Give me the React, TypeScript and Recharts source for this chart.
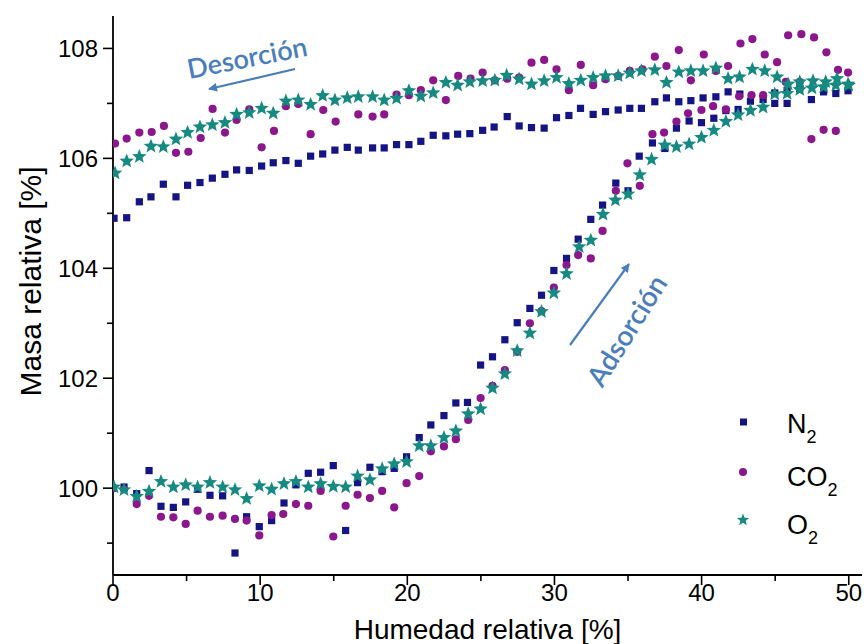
import { Legend, Scatter, ScatterChart, XAxis, YAxis } from 'recharts'

const N2_COLOR = '#141485'
const CO2_COLOR = '#8c168c'
const O2_COLOR = '#168a80'
const NOTE_COLOR = '#4a7ebb'
const FONT = '"Liberation Sans", Arimo, Arial, sans-serif'

const X_TICKS = [0, 5, 10, 15, 20, 25, 30, 35, 40, 45, 50]
const Y_TICKS = [99, 100, 101, 102, 103, 104, 105, 106, 107, 108]

// [humedad relativa %, masa relativa %]
const N2_ADS = [
  [0, 100.0], [0.75, 100.02], [1.61, 99.9], [2.45, 100.32], [3.26, 99.67], [4.1, 99.65],
  [4.94, 99.75], [5.75, 99.98], [6.59, 99.87], [7.45, 99.86], [8.29, 98.82], [9.08, 99.48],
  [9.94, 99.3], [10.78, 99.41], [11.62, 99.73], [12.43, 100.06], [13.27, 100.27], [14.11, 100.29],
  [14.97, 100.41], [15.81, 99.23], [16.62, 100.1], [17.46, 100.38], [18.29, 100.3], [19.11, 100.36],
  [19.95, 100.57], [20.81, 100.92], [21.6, 101.15], [22.49, 101.32], [23.3, 101.55], [24.09, 101.56],
  [24.98, 102.24], [25.79, 102.39], [26.63, 102.7], [27.47, 103.01], [28.33, 103.27], [29.12, 103.51],
  [29.96, 103.96], [30.82, 104.18], [31.61, 104.53], [32.47, 104.89], [33.27, 105.15], [34.17, 105.55],
  [35.0, 105.41], [35.76, 106.04], [36.66, 106.28], [37.5, 106.18], [38.29, 106.55], [39.15, 106.68],
  [39.99, 106.65], [40.83, 106.73], [41.65, 106.87], [42.48, 106.89], [43.32, 107.04], [44.18, 107.07],
  [44.97, 107.0], [45.81, 107.0], [47.46, 107.07], [48.29, 107.21], [49.12, 107.18], [49.95, 107.23],
]

const N2_DES = [
  [0.07, 104.91], [0.93, 104.92], [1.79, 105.21], [2.58, 105.3], [3.42, 105.53], [4.28, 105.3],
  [5.07, 105.51], [5.91, 105.56], [6.75, 105.64], [7.61, 105.71], [8.4, 105.79], [9.26, 105.78],
  [10.1, 105.86], [10.89, 105.92], [11.75, 105.96], [12.59, 105.91], [13.43, 106.04], [14.25, 106.08],
  [15.08, 106.15], [15.92, 106.2], [16.67, 106.15], [17.64, 106.19], [18.43, 106.19], [19.27, 106.25],
  [20.11, 106.25], [20.92, 106.31], [21.76, 106.42], [22.62, 106.41], [23.42, 106.44], [24.25, 106.45],
  [25.12, 106.51], [25.9, 106.57], [26.79, 106.76], [27.6, 106.59], [28.44, 106.56], [29.3, 106.55],
  [30.14, 106.74], [30.98, 106.78], [31.77, 106.91], [32.63, 106.8], [33.47, 106.85], [34.33, 106.88],
  [35.12, 106.91], [35.91, 106.91], [36.82, 107.03], [37.61, 107.1], [38.45, 107.03], [39.27, 107.05],
  [40.1, 107.1], [40.97, 107.12], [41.8, 107.21], [42.6, 107.17], [44.97, 107.19], [45.81, 107.24],
  [46.67, 107.27],
]

const CO2_ADS = [
  [0, 100.0], [0.75, 99.98], [1.61, 99.71], [2.45, 99.86], [3.26, 99.48], [4.1, 99.47],
  [4.94, 99.35], [5.75, 99.59], [6.59, 99.48], [7.45, 99.5], [8.29, 99.44], [9.08, 99.41],
  [9.94, 99.14], [10.78, 99.51], [11.57, 99.53], [12.43, 99.71], [13.27, 99.68], [14.11, 99.95],
  [14.97, 99.12], [15.81, 99.68], [16.62, 99.88], [17.46, 99.82], [18.29, 99.95], [19.11, 99.65],
  [19.95, 100.09], [20.81, 100.22], [21.6, 100.67], [22.49, 100.76], [23.3, 100.89], [24.14, 101.24],
  [24.98, 101.64], [25.79, 101.86], [26.63, 102.15], [27.47, 102.48], [28.33, 103.0], [29.12, 103.22],
  [29.96, 103.65], [30.82, 104.06], [31.61, 104.24], [32.47, 104.18], [33.27, 104.68], [34.17, 105.41],
  [34.96, 105.91], [35.8, 105.5], [36.66, 106.44], [37.45, 106.47], [38.29, 106.67], [39.08, 106.82],
  [39.99, 106.88], [40.78, 106.95], [41.65, 106.89], [42.55, 107.13], [43.39, 107.15], [44.18, 107.15],
  [45.72, 107.39], [46.67, 107.39], [47.46, 106.35], [48.29, 106.52], [49.12, 106.5],
]

const CO2_DES = [
  [0.14, 106.27], [0.93, 106.36], [1.79, 106.47], [2.63, 106.48], [3.46, 106.59], [4.28, 106.1],
  [5.12, 106.12], [5.96, 106.37], [6.77, 106.9], [7.61, 106.47], [8.4, 106.7], [9.26, 106.89],
  [10.1, 106.2], [10.94, 106.5], [11.75, 106.95], [12.59, 106.99], [13.43, 106.44], [14.29, 106.88],
  [15.13, 106.67], [16.67, 106.8], [17.64, 106.76], [18.43, 106.8], [19.27, 107.16], [20.11, 107.15],
  [20.92, 107.24], [21.76, 107.42], [22.62, 107.06], [23.46, 107.5], [24.3, 107.45], [25.12, 107.56],
  [25.95, 107.42], [26.79, 107.45], [27.6, 107.47], [28.44, 107.74], [29.3, 107.79], [30.14, 107.62],
  [30.98, 107.24], [31.79, 107.7], [32.63, 107.33], [33.47, 107.44], [34.33, 107.5], [35.12, 107.59],
  [35.98, 107.62], [36.82, 107.85], [37.61, 107.68], [38.45, 107.97], [39.27, 107.42], [40.15, 107.89],
  [40.97, 107.59], [41.8, 107.68], [42.64, 108.09], [43.45, 108.17], [44.29, 107.89], [45.13, 107.75],
  [45.88, 108.24], [46.78, 108.26], [47.64, 108.2], [48.48, 107.93], [49.27, 107.61], [49.95, 107.56],
]

const O2_ADS = [
  [0.07, 100.02], [0.75, 99.97], [1.61, 99.85], [2.45, 99.94], [3.26, 100.12], [4.1, 100.02],
  [4.94, 100.06], [5.75, 100.02], [6.59, 100.1], [7.45, 100.02], [8.29, 99.97], [9.08, 99.81],
  [9.94, 100.04], [10.78, 99.98], [11.62, 100.08], [12.43, 100.12], [13.27, 100.02], [14.11, 100.08],
  [14.97, 100.03], [15.81, 100.02], [16.62, 100.22], [17.46, 100.15], [18.29, 100.35], [19.11, 100.44],
  [19.95, 100.48], [20.81, 100.77], [21.6, 100.77], [22.49, 100.92], [23.3, 101.04], [24.14, 101.35],
  [24.98, 101.44], [25.79, 101.82], [26.63, 102.08], [27.47, 102.5], [28.33, 102.82], [29.12, 103.21],
  [29.96, 103.55], [30.82, 103.9], [31.68, 104.39], [32.47, 104.51], [33.3, 104.98], [34.14, 105.24],
  [35.0, 105.35], [35.8, 105.7], [36.6, 105.98], [37.5, 106.24], [38.29, 106.21], [39.15, 106.26],
  [39.99, 106.38], [40.83, 106.51], [41.65, 106.67], [42.48, 106.79], [43.32, 106.87], [44.18, 106.93],
  [44.97, 107.17], [45.81, 107.18], [46.67, 107.25], [47.5, 107.28], [48.3, 107.3], [49.12, 107.33],
  [49.95, 107.35],
]

const O2_DES = [
  [0.14, 105.73], [0.93, 105.95], [1.79, 106.03], [2.58, 106.22], [3.42, 106.21], [4.28, 106.35],
  [5.07, 106.47], [5.91, 106.57], [6.75, 106.61], [7.61, 106.65], [8.4, 106.8], [9.26, 106.83],
  [10.1, 106.91], [10.89, 106.82], [11.75, 107.04], [12.59, 107.06], [13.43, 106.98], [14.25, 107.14],
  [15.08, 107.06], [15.92, 107.1], [16.67, 107.12], [17.64, 107.12], [18.43, 107.06], [19.27, 107.09],
  [20.11, 107.23], [20.92, 107.13], [21.76, 107.19], [22.62, 107.38], [23.42, 107.33], [24.25, 107.39],
  [25.12, 107.41], [25.95, 107.42], [26.75, 107.51], [27.6, 107.44], [28.44, 107.35], [29.3, 107.41],
  [30.14, 107.47], [30.98, 107.36], [31.79, 107.42], [32.63, 107.47], [33.47, 107.5], [34.33, 107.5],
  [35.12, 107.55], [35.91, 107.59], [36.82, 107.61], [37.61, 107.38], [38.45, 107.57], [39.27, 107.59],
  [40.1, 107.59], [40.97, 107.64], [41.8, 107.45], [42.58, 107.48], [43.45, 107.62], [44.29, 107.59],
  [45.13, 107.48], [45.88, 107.35], [46.67, 107.39], [47.57, 107.41], [48.43, 107.39], [49.2, 107.45],
  [50.0, 107.33],
]

const toPoints = (rows: number[][]) => rows.map(([x, y]) => ({ x, y }))

const n2Data = toPoints([...N2_ADS, ...N2_DES])
const co2Data = toPoints([...CO2_ADS, ...CO2_DES])
const o2Data = toPoints([...O2_ADS, ...O2_DES])

function starPoints(cx: number, cy: number, R: number, r: number) {
  const pts: string[] = []
  for (let i = 0; i < 10; i++) {
    const a = -Math.PI / 2 + (i * Math.PI) / 5
    const rad = i % 2 === 0 ? R : r
    pts.push(`${cx + rad * Math.cos(a)},${cy + rad * Math.sin(a)}`)
  }
  return pts.join(' ')
}

const SquareDot = (p: any) => (
  <rect x={p.cx - 3.6} y={p.cy - 3.6} width={7.2} height={7.2} fill={N2_COLOR} />
)
const CircleDot = (p: any) => <circle cx={p.cx} cy={p.cy} r={4.1} fill={CO2_COLOR} />
const StarDot = (p: any) => <polygon points={starPoints(p.cx, p.cy, 7.6, 3.3)} fill={O2_COLOR} />

function BottomTick({ x, y, payload }: any) {
  const major = payload.value % 10 === 0
  return (
    <g>
      <line x1={x} x2={x} y1={y} y2={y + (major ? 10 : 6)} stroke="#000" strokeWidth={1.6} />
      {major && (
        <text x={x} y={y + 26} textAnchor="middle" fontSize={24} fontFamily={FONT} fill="#000">
          {payload.value}
        </text>
      )}
    </g>
  )
}

function TopTick({ x, y, payload }: any) {
  const major = payload.value % 10 === 0
  return <line x1={x} x2={x} y1={y} y2={y + (major ? 10 : 6)} stroke="#000" strokeWidth={1.6} />
}

function LeftTick({ x, y, payload }: any) {
  const major = payload.value % 2 === 0
  return (
    <g>
      <line x1={x} x2={x - (major ? 10 : 6)} y1={y} y2={y} stroke="#000" strokeWidth={1.6} />
      {major && (
        <text x={x - 15} y={y + 8.5} textAnchor="end" fontSize={24} fontFamily={FONT} fill="#000">
          {payload.value}
        </text>
      )}
    </g>
  )
}

function GasLegend() {
  const rows = [
    { name: 'N', y: 38, icon: <rect x={15} y={23.5} width={7} height={7} fill={N2_COLOR} /> },
    { name: 'CO', y: 91, icon: <circle cx={18} cy={77} r={4} fill={CO2_COLOR} /> },
    { name: 'O', y: 139, icon: <polygon points={starPoints(18, 125, 6.5, 2.8)} fill={O2_COLOR} /> },
  ]
  return (
    <svg width={130} height={160}>
      {rows.map((r) => (
        <g key={r.name}>
          {r.icon}
          <text x={62} y={r.y} fontSize={27} fontFamily={FONT} fill="#000">
            {r.name}
            <tspan fontSize={18} dy={10}>2</tspan>
          </text>
        </g>
      ))}
    </svg>
  )
}

const axisLine = { stroke: '#000', strokeWidth: 1.8 }

export default function App() {
  return (
    <div style={{ position: 'relative', width: 864, height: 644, background: '#fff', fontFamily: FONT }}>
      <style>{'html,body{margin:0;padding:0;overflow:hidden;background:#fff}'}</style>
      <ScatterChart width={864} height={644} margin={{ top: 16, right: 2, bottom: 0, left: 0 }}>
        <XAxis
          xAxisId="b"
          type="number"
          dataKey="x"
          domain={[0, 50.9]}
          allowDataOverflow
          ticks={X_TICKS}
          interval={0}
          height={69}
          tickSize={0}
          tickMargin={0}
          tickLine={false}
          axisLine={axisLine}
          tick={(p: any) => <BottomTick {...p} />}
          label={{
            value: 'Humedad relativa [%]',
            position: 'insideBottom',
            offset: 5,
            fontSize: 28,
            fontFamily: FONT,
            fill: '#000',
          }}
        />
        <XAxis
          xAxisId="t"
          orientation="top"
          type="number"
          dataKey="x"
          domain={[0, 50.9]}
          allowDataOverflow
          ticks={X_TICKS}
          interval={0}
          height={0}
          tickSize={0}
          tickMargin={0}
          tickLine={false}
          axisLine={axisLine}
          tick={(p: any) => <TopTick {...p} />}
        />
        <YAxis
          yAxisId="l"
          type="number"
          dataKey="y"
          domain={[98.42, 108.59]}
          allowDataOverflow
          ticks={Y_TICKS}
          interval={0}
          width={113}
          tickSize={0}
          tickMargin={0}
          tickLine={false}
          axisLine={axisLine}
          tick={(p: any) => <LeftTick {...p} />}
          label={{
            value: 'Masa relativa [%]',
            angle: -90,
            position: 'center',
            dx: -26,
            dy: -14,
            fontSize: 30,
            fontFamily: FONT,
            fill: '#000',
          }}
        />
        <YAxis
          yAxisId="r"
          orientation="right"
          type="number"
          dataKey="y"
          domain={[98.42, 108.59]}
          allowDataOverflow
          width={0}
          tick={false}
          tickLine={false}
          axisLine={axisLine}
        />
        <Scatter xAxisId="b" yAxisId="l" name="N2" data={n2Data} shape={SquareDot} isAnimationActive={false} />
        <Scatter xAxisId="b" yAxisId="l" name="CO2" data={co2Data} shape={CircleDot} isAnimationActive={false} />
        <Scatter xAxisId="b" yAxisId="l" name="O2" data={o2Data} shape={StarDot} isAnimationActive={false} />
        <Scatter
          xAxisId="t"
          yAxisId="r"
          data={[{ x: 0, y: 100 }]}
          shape={() => <g />}
          legendType="none"
          isAnimationActive={false}
        />
        <Legend
          layout="vertical"
          align="center"
          verticalAlign="middle"
          content={() => <GasLegend />}
          wrapperStyle={{ left: 725, top: 395, width: 130, height: 160 }}
        />
      </ScatterChart>
      <svg width={864} height={644} style={{ position: 'absolute', left: 0, top: 0, pointerEvents: 'none' }}>
        <defs>
          <marker id="arrow" viewBox="0 0 10 10" refX="9" refY="5" markerWidth="4.5" markerHeight="4" orient="auto">
            <path d="M0,0 L10,5 L0,10 z" fill={NOTE_COLOR} />
          </marker>
        </defs>
        <line x1={295} y1={69} x2={209} y2={89} stroke={NOTE_COLOR} strokeWidth={2.2} markerEnd="url(#arrow)" />
        <text
          transform="translate(247,57) rotate(-11)"
          textAnchor="middle"
          dominantBaseline="central"
          fontFamily="Lato, 'Open Sans', sans-serif"
          fontWeight={600}
          fontSize={27}
          fill={NOTE_COLOR}
        >
          Desorción
        </text>
        <line x1={570} y1={345} x2={629} y2={264} stroke={NOTE_COLOR} strokeWidth={2.2} markerEnd="url(#arrow)" />
        <text
          transform="translate(626,330) rotate(-58)"
          textAnchor="middle"
          dominantBaseline="central"
          fontFamily="Lato, 'Open Sans', sans-serif"
          fontWeight={600}
          fontSize={28}
          fill={NOTE_COLOR}
        >
          Adsorción
        </text>
      </svg>
    </div>
  )
}
